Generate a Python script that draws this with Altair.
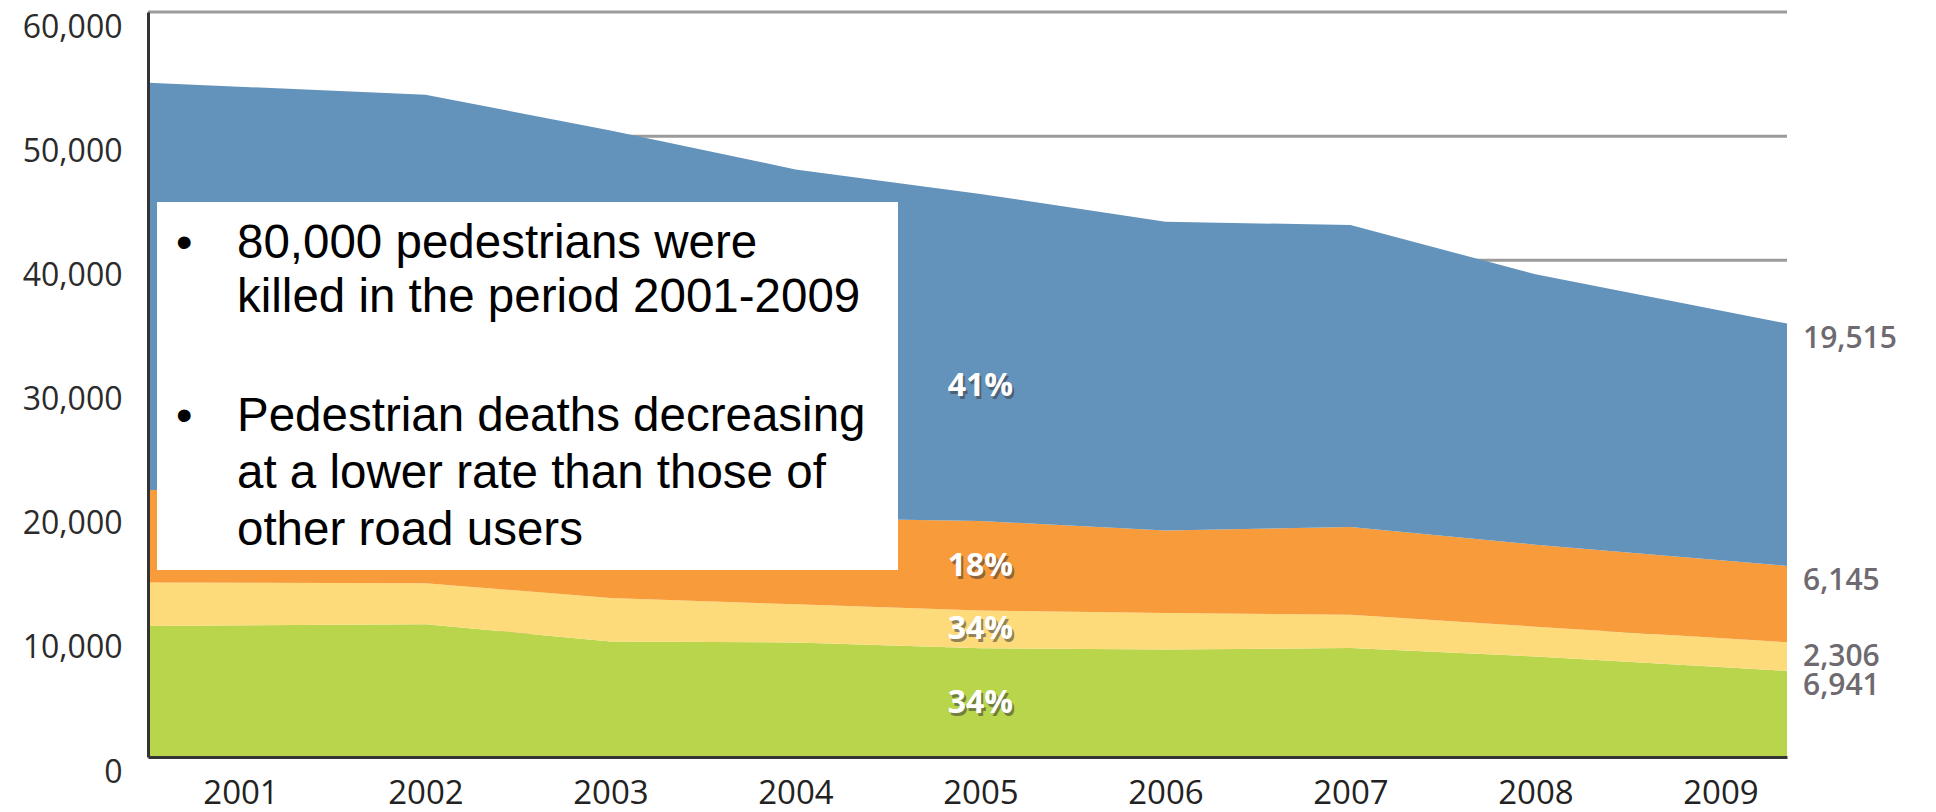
import altair as alt
import pandas as pd

# ---- data ----
years = [2001, 2002, 2003, 2004, 2005, 2006, 2007, 2008, 2009]
pedestrians = [10550, 10700, 9300, 9220, 8750, 8650, 8770, 8100, 6941]
cyclists = [3500, 3300, 3500, 3080, 3050, 2950, 2680, 2400, 2306]
motorcyclists = [7450, 7300, 7100, 6950, 7200, 6650, 7070, 6600, 6145]
other_users = [32800, 32040, 30550, 28075, 26350, 24850, 24330, 21775, 19515]

series_names = ["Pedestrians", "Cyclists", "Powered two-wheelers", "Other road users"]  # bottom -> top
series_colors = ["#b9d54b", "#fedb7a", "#f89b3a", "#6393bb"]
share_labels = ["34%", "34%", "18%", "41%"]
share_label_year = 2005

y_ticks = [0, 10000, 20000, 30000, 40000, 50000, 60000]

bullets = [
    ["80,000 pedestrians were", "killed in the period 2001-2009"],
    ["Pedestrian deaths decreasing", "at a lower rate than those of", "other road users"],
]

# ---- layout / style ----
X_MIN, X_MAX = 2000.5, 2009.36
W, H = 1639, 745
AXIS_FONT = "Open Sans"
BOX_FONT = "Liberation Sans"

rows = []
base = [0] * len(years)
for k, (name, vals) in enumerate(zip(series_names, [pedestrians, cyclists, motorcyclists, other_users])):
    for i, (yr, v) in enumerate(zip(years, vals)):
        xpos = X_MIN if i == 0 else (X_MAX if i == len(years) - 1 else yr)
        rows.append(dict(series=name, order=k, year=yr, xpos=xpos, value=v,
                         lower=base[i], upper=base[i] + v, mid=base[i] + v / 2,
                         label=f"{v:,}", share=share_labels[k]))
    base = [b + v for b, v in zip(base, vals)]
df = pd.DataFrame(rows)

xscale = alt.Scale(domain=[X_MIN, X_MAX], nice=False, zero=False)
yscale = alt.Scale(domain=[0, 60000], nice=False)

x_axis = alt.Axis(
    values=years, format="d", title=None, grid=False, ticks=False,
    labelFont=AXIS_FONT, labelFontSize=33, labelColor="#222222",
    labelPadding=20, labelFlush=False, labelOverlap=False,
    domainColor="#333333", domainWidth=3, zindex=1)
y_axis = alt.Axis(
    values=y_ticks, format=",.0f", title=None, grid=False, ticks=False,
    labelFont=AXIS_FONT, labelFontSize=32, labelColor="#2b2b2b",
    labelPadding=26, labelOffset=15, labelBaseline="middle", labelFlush=False,
    labelOverlap=False, domainColor="#333333", domainWidth=3, zindex=1)

grid = alt.Chart(pd.DataFrame({"tick": y_ticks[1:]})).mark_rule(
    color="#9b9b9b", strokeWidth=3
).encode(y=alt.Y("tick:Q", scale=yscale, axis=y_axis))

areas = alt.Chart(df).mark_area(interpolate="linear").encode(
    x=alt.X("xpos:Q", scale=xscale, axis=x_axis),
    y=alt.Y("lower:Q", scale=yscale, axis=y_axis),
    y2="upper:Q",
    color=alt.Color("series:N", scale=alt.Scale(domain=series_names, range=series_colors), legend=None),
)

one = pd.DataFrame({"a": [0]})
box = alt.Chart(one).mark_rect(color="white").encode(
    x=alt.value(9), x2=alt.value(750), y=alt.value(190), y2=alt.value(558))

text_layers = []
line_y = [[232, 286], [405, 462, 519]]
for lines, ys in zip(bullets, line_y):
    text_layers.append(alt.Chart(one).mark_text(
        text="•", font=BOX_FONT, fontSize=47, color="black", align="left", baseline="middle"
    ).encode(x=alt.value(28), y=alt.value(ys[0])))
    for ln, yy in zip(lines, ys):
        text_layers.append(alt.Chart(one).mark_text(
            text=ln, font=BOX_FONT, fontSize=47.5, color="black", align="left", baseline="middle"
        ).encode(x=alt.value(89), y=alt.value(yy)))

share_base = alt.Chart(df).transform_filter(alt.datum.year == share_label_year)
share_kw = dict(font=AXIS_FONT, fontSize=32, fontWeight="bold", align="center", baseline="middle")
enc = dict(x=alt.X("xpos:Q"), y=alt.Y("mid:Q"), text="share:N")
share_layers = []
for cond, dy in [(alt.datum.order < 3, 0), (alt.datum.order == 3, 29)]:
    b = share_base.transform_filter(cond)
    share_layers.append(b.mark_text(color="#3a3a3a", opacity=0.55, dx=2, dy=dy + 3, **share_kw).encode(**enc))
    share_layers.append(b.mark_text(color="white", dy=dy, **share_kw).encode(**enc))

end_labels = alt.Chart(df).transform_filter(alt.datum.year == years[-1]).mark_text(
    align="left", baseline="middle", dx=16, dy=15, font=AXIS_FONT, fontSize=30,
    fontWeight=600, color="#6e6a70"
).encode(x="xpos:Q", y="upper:Q", text="label:N")

chart = alt.layer(grid, areas, box, *text_layers, *share_layers, end_labels).properties(
    width=W, height=H,
    padding={"left": 140, "top": 4, "right": 140, "bottom": 55},
    autosize=alt.AutoSizeParams(type="none"),
).configure_view(stroke=None)

chart.save("out.html", embed_options={"renderer": "svg", "actions": False})
